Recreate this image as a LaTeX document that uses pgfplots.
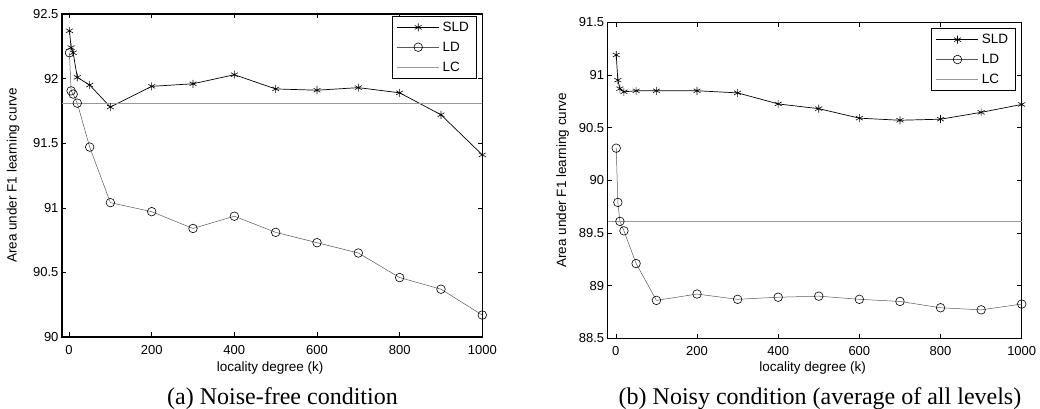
\documentclass[border=0pt]{standalone}
\usepackage{fontspec}
\setmainfont{Liberation Serif}
\newfontfamily\arial{Liberation Sans}
\usepackage{pgfplots}
\pgfplotsset{compat=1.18}

\pgfplotsset{
  matlab/.style={
    scale only axis,
    anchor=south west,
    xmax=1000,
    xtick={0,200,...,1000},
    tick align=inside,
    major tick length=4.5pt,
    tick style={black, line width=0.5pt},
    axis line style={black, line width=1.1pt},
    /pgf/number format/assume math mode=true,
    /pgf/number format/1000 sep={},
    tick label style={font=\arial\fontsize{13}{13}\selectfont},
    xticklabel style={yshift=-4.7pt},
    label style={font=\arial\fontsize{13.5}{13.5}\selectfont},
    legend cell align=left,
    legend style={draw=black, line width=0.8pt, anchor=north east,
      font=\arial\fontsize{13.5}{13.5}\selectfont,
      inner xsep=4.5pt, inner ysep=3.5pt, row sep=5pt,
      nodes={inner xsep=3pt, inner ysep=2pt}},
    legend image code/.code={%
      \draw[mark repeat=2,mark phase=2,#1]
        plot coordinates {(0pt,0pt) (21pt,0pt) (42pt,0pt)};},
  },
  sld/.style={black, line width=0.7pt, mark=asterisk, mark size=4pt,
    mark options={solid, black, line width=0.6pt}},
  ld/.style={black!65, line width=0.5pt, mark=o, mark size=4.3pt,
    mark options={solid, black, line width=0.6pt}},
  lc/.style={black!40, line width=0.7pt, no marks},
}

\begin{document}
\begin{tikzpicture}
\path[use as bounding box] (0pt,0pt) rectangle (1040pt,409pt);

% (a) noise-free
\begin{axis}[matlab,
    at={(62pt,72pt)}, width=420.3pt, height=323pt,
    xmin=-17, ymin=90, ymax=92.5, ytick={90,90.5,...,92.5},
    xlabel={locality degree (k)},
    ylabel={Area under F1 learning curve},
    xlabel style={at={(axis description cs:0.495,-0.096)}, anchor=center},
    ylabel style={at={(axis description cs:-0.116,0.5)}, anchor=center, rotate=0},
    legend style={at={(axis description cs:0.9867,0.9938)}},
  ]
  \addplot[sld] coordinates {
    (1,92.37) (5,92.24) (10,92.20) (20,92.01) (50,91.95) (100,91.78)
    (200,91.94) (300,91.96) (400,92.03) (500,91.92) (600,91.91)
    (700,91.93) (800,91.89) (900,91.72) (1000,91.41)
  };
  \addplot[ld] coordinates {
    (1,92.20) (5,91.905) (10,91.88) (20,91.81) (50,91.47) (100,91.04)
    (200,90.97) (300,90.84) (400,90.935) (500,90.81) (600,90.73)
    (700,90.65) (800,90.46) (900,90.37) (1000,90.17)
  };
  \addplot[lc] coordinates {(-17,91.805) (1000,91.805)};
  \legend{SLD, LD, LC}
\end{axis}

% (b) noisy
\begin{axis}[matlab,
    at={(607.7pt,70.7pt)}, width=414pt, height=316pt,
    xmin=-20, ymin=88.5, ymax=91.5, ytick={88.5,89,...,91.5},
    xlabel={locality degree (k)},
    ylabel={Area under F1 learning curve},
    xlabel style={at={(axis description cs:0.495,-0.094)}, anchor=center},
    ylabel style={at={(axis description cs:-0.109,0.5)}, anchor=center, rotate=0},
    legend style={at={(axis description cs:0.9862,0.981)}},
  ]
  \addplot[sld] coordinates {
    (1,91.19) (5,90.95) (10,90.87) (20,90.84) (50,90.85) (100,90.85)
    (200,90.85) (300,90.83) (400,90.725) (500,90.68) (600,90.59)
    (700,90.57) (800,90.58) (900,90.645) (1000,90.72)
  };
  \addplot[ld] coordinates {
    (1,90.305) (5,89.79) (10,89.61) (20,89.52) (50,89.21) (100,88.86)
    (200,88.92) (300,88.87) (400,88.89) (500,88.90) (600,88.87)
    (700,88.85) (800,88.79) (900,88.77) (1000,88.825)
  };
  \addplot[lc] coordinates {(-20,89.61) (1000,89.61)};
  \legend{SLD, LD, LC}
\end{axis}

\node[anchor=base, font=\fontsize{24}{24}\selectfont] at (282.5pt,4pt)
  {(a) Noise-free condition};
\node[anchor=base, font=\fontsize{24}{24}\selectfont] at (820pt,4pt)
  {(b) Noisy condition (average of all levels)};
\end{tikzpicture}
\end{document}
